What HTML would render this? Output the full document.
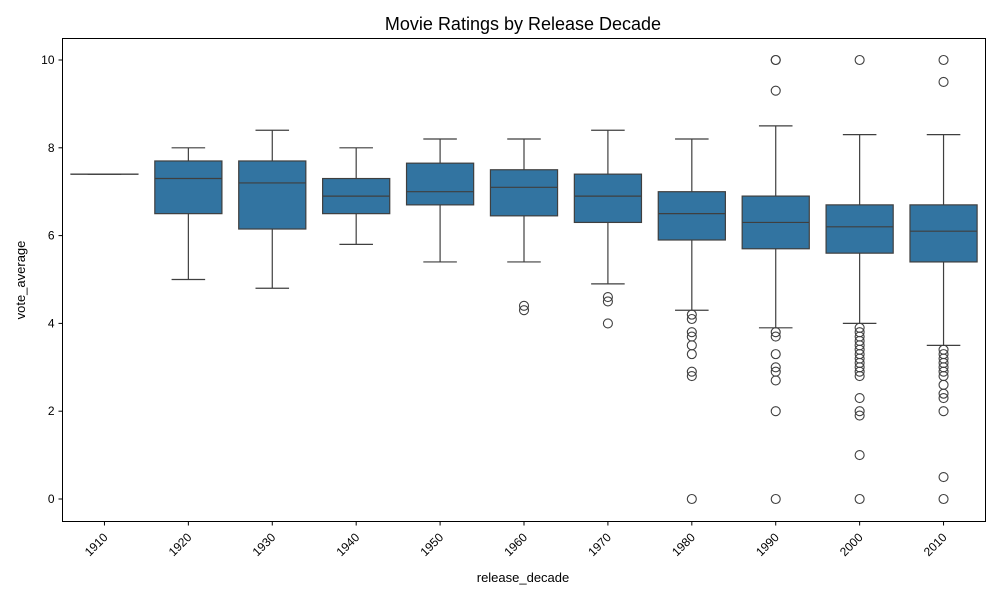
<!DOCTYPE html>
<html><head><meta charset="utf-8"><style>
body{margin:0;background:#fff;font-family:"Liberation Sans","DejaVu Sans",sans-serif}
</style></head><body>
<svg id="c" width="1000" height="600" xmlns="http://www.w3.org/2000/svg">
<rect width="1000" height="600" fill="#fff"/>
<text x="523" y="30" font-size="18" text-anchor="middle" fill="#000">Movie Ratings by Release Decade</text>
<text x="523" y="582" font-size="13" text-anchor="middle">release_decade</text>
<text x="25" y="280" font-size="13" text-anchor="middle" transform="rotate(-90 25 280)">vote_average</text>
<g id="g"></g>
<rect x="62.5" y="38.5" width="923" height="483" fill="none" stroke="#000" stroke-width="1"/>
</svg>
<script>
const categories=["1910","1920","1930","1940","1950","1960","1970","1980","1990","2000","2010"];
const q1=[7.4,6.5,6.15,6.5,6.7,6.45,6.3,5.9,5.7,5.6,5.4];
const medians=[7.4,7.3,7.2,6.9,7.0,7.1,6.9,6.5,6.3,6.2,6.1];
const q3=[7.4,7.7,7.7,7.3,7.65,7.5,7.4,7.0,6.9,6.7,6.7];
const whiskerLow=[7.4,5.0,4.8,5.8,5.4,5.4,4.9,4.3,3.9,4.0,3.5];
const whiskerHigh=[7.4,8.0,8.4,8.0,8.2,8.2,8.4,8.2,8.5,8.3,8.3];
const outliers=[[],[],[],[],[],[4.4,4.3],[4.6,4.5,4.0],
[4.2,4.1,3.8,3.7,3.5,3.3,2.9,2.8,0],
[10,10,9.3,3.8,3.7,3.3,3.0,2.9,2.7,2.0,0],
[10,3.9,3.8,3.7,3.6,3.5,3.4,3.3,3.2,3.1,3.0,2.9,2.8,2.3,2.0,1.9,1.0,0],
[10,9.5,3.4,3.3,3.2,3.1,3.0,2.9,2.8,2.6,2.4,2.3,2.0,0.5,0]];
const yTicks=[0,2,4,6,8,10];
const X0=62.5,W=923,Y0=499,K=43.9;
const bw=W/categories.length;
const xs=i=>X0+bw*(i+0.5);
const ys=v=>Y0-v*K;
const g=document.getElementById('g');
const NS='http://www.w3.org/2000/svg';
function mk(t,a,p){const e=document.createElementNS(NS,t);for(const k in a)e.setAttribute(k,a[k]);(p||g).appendChild(e);return e;}
const ec='#3f3f3f';
yTicks.forEach(v=>{
 const y=ys(v);
 const l=mk('line',{x1:X0-4,x2:X0,y1:y,y2:y,stroke:'#000'});
 
 
 const t=mk('text',{x:X0-8,y:y+4,'font-size':12,'text-anchor':'end'});t.textContent=v;
 
 
});
categories.forEach((c,i)=>{
 const x=xs(i);
 const l=mk('line',{x1:x,x2:x,y1:521.5,y2:525.5,stroke:'#000'});
 
 
 const t=mk('text',{x:x+4,y:538,'font-size':12,'text-anchor':'end',transform:`rotate(-45 ${x+4} 538)`});t.textContent=c;
 
 
 const bx=bw*0.8, cap=bw*0.4;
 const grp=mk('g',{});
 
 
 mk('line',{x1:x,x2:x,y1:ys(q3[i]),y2:ys(whiskerHigh[i]),stroke:ec,'stroke-width':1.2},grp);
 mk('line',{x1:x,x2:x,y1:ys(q1[i]),y2:ys(whiskerLow[i]),stroke:ec,'stroke-width':1.2},grp);
 mk('line',{x1:x-cap/2,x2:x+cap/2,y1:ys(whiskerHigh[i]),y2:ys(whiskerHigh[i]),stroke:ec,'stroke-width':1.2},grp);
 mk('line',{x1:x-cap/2,x2:x+cap/2,y1:ys(whiskerLow[i]),y2:ys(whiskerLow[i]),stroke:ec,'stroke-width':1.2},grp);
 mk('rect',{x:x-bx/2,y:ys(q3[i]),width:bx,height:Math.max(ys(q1[i])-ys(q3[i]),0.01),fill:'#3274a1',stroke:ec,'stroke-width':1.2},grp);
 mk('line',{x1:x-bx/2,x2:x+bx/2,y1:ys(medians[i]),y2:ys(medians[i]),stroke:ec,'stroke-width':1.2},grp);
 outliers[i].forEach(v=>{
  const o=mk('circle',{cx:x,cy:ys(v),r:4.5,fill:'none',stroke:ec,'stroke-width':1.1},grp);
  
  
 });
});
</script>
</body></html>
